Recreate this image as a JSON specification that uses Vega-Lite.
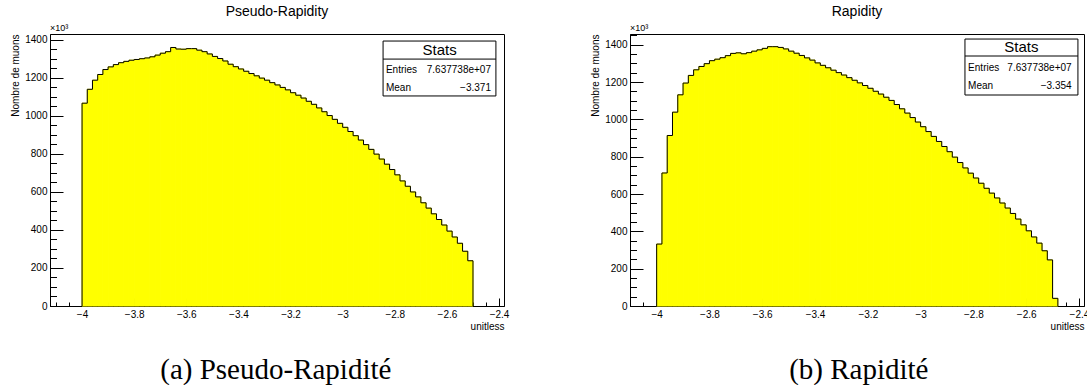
{
  "$schema": "https://vega.github.io/schema/vega-lite/v6.json",
  "background": "white",
  "padding": {"left": 10, "top": 4, "right": 0, "bottom": 0},
  "spacing": 80,
  "config": {
    "font": "Liberation Sans",
    "view": {"stroke": "black", "strokeWidth": 1},
    "axis": {"domainColor": "black", "tickColor": "black", "labelColor": "black", "titleColor": "black", "labelFont": "Liberation Sans", "titleFont": "Liberation Sans", "labelFontSize": 10, "titleFontSize": 10, "titleFontWeight": "normal", "grid": false, "tickWidth": 1, "domainWidth": 1},
    "text": {"font": "Liberation Sans", "color": "black"}
  },
  "datasets": {
    "pr": [
      {"lo": -4.00, "hi": -3.98, "n": 1067}, {"lo": -3.98, "hi": -3.96, "n": 1140}, {"lo": -3.96, "hi": -3.94, "n": 1188}, {"lo": -3.94, "hi": -3.92, "n": 1218}, {"lo": -3.92, "hi": -3.90, "n": 1244},
      {"lo": -3.90, "hi": -3.88, "n": 1258}, {"lo": -3.88, "hi": -3.86, "n": 1270}, {"lo": -3.86, "hi": -3.84, "n": 1280}, {"lo": -3.84, "hi": -3.82, "n": 1287}, {"lo": -3.82, "hi": -3.80, "n": 1293},
      {"lo": -3.80, "hi": -3.78, "n": 1297}, {"lo": -3.78, "hi": -3.76, "n": 1301}, {"lo": -3.76, "hi": -3.74, "n": 1305}, {"lo": -3.74, "hi": -3.72, "n": 1311}, {"lo": -3.72, "hi": -3.70, "n": 1320},
      {"lo": -3.70, "hi": -3.68, "n": 1330}, {"lo": -3.68, "hi": -3.66, "n": 1338}, {"lo": -3.66, "hi": -3.64, "n": 1360}, {"lo": -3.64, "hi": -3.62, "n": 1352}, {"lo": -3.62, "hi": -3.60, "n": 1351},
      {"lo": -3.60, "hi": -3.58, "n": 1354}, {"lo": -3.58, "hi": -3.56, "n": 1354}, {"lo": -3.56, "hi": -3.54, "n": 1346}, {"lo": -3.54, "hi": -3.52, "n": 1338}, {"lo": -3.52, "hi": -3.50, "n": 1326},
      {"lo": -3.50, "hi": -3.48, "n": 1313}, {"lo": -3.48, "hi": -3.46, "n": 1302}, {"lo": -3.46, "hi": -3.44, "n": 1289}, {"lo": -3.44, "hi": -3.42, "n": 1272}, {"lo": -3.42, "hi": -3.40, "n": 1259},
      {"lo": -3.40, "hi": -3.38, "n": 1247}, {"lo": -3.38, "hi": -3.36, "n": 1235}, {"lo": -3.36, "hi": -3.34, "n": 1223}, {"lo": -3.34, "hi": -3.32, "n": 1211}, {"lo": -3.32, "hi": -3.30, "n": 1199},
      {"lo": -3.30, "hi": -3.28, "n": 1188}, {"lo": -3.28, "hi": -3.26, "n": 1175}, {"lo": -3.26, "hi": -3.24, "n": 1163}, {"lo": -3.24, "hi": -3.22, "n": 1150}, {"lo": -3.22, "hi": -3.20, "n": 1137},
      {"lo": -3.20, "hi": -3.18, "n": 1122}, {"lo": -3.18, "hi": -3.16, "n": 1109}, {"lo": -3.16, "hi": -3.14, "n": 1094}, {"lo": -3.14, "hi": -3.12, "n": 1077}, {"lo": -3.12, "hi": -3.10, "n": 1061},
      {"lo": -3.10, "hi": -3.08, "n": 1042}, {"lo": -3.08, "hi": -3.06, "n": 1022}, {"lo": -3.06, "hi": -3.04, "n": 1002}, {"lo": -3.04, "hi": -3.02, "n": 982}, {"lo": -3.02, "hi": -3.00, "n": 961},
      {"lo": -3.00, "hi": -2.98, "n": 940}, {"lo": -2.98, "hi": -2.96, "n": 918}, {"lo": -2.96, "hi": -2.94, "n": 896}, {"lo": -2.94, "hi": -2.92, "n": 873}, {"lo": -2.92, "hi": -2.90, "n": 849},
      {"lo": -2.90, "hi": -2.88, "n": 824}, {"lo": -2.88, "hi": -2.86, "n": 799}, {"lo": -2.86, "hi": -2.84, "n": 773}, {"lo": -2.84, "hi": -2.82, "n": 746}, {"lo": -2.82, "hi": -2.80, "n": 718},
      {"lo": -2.80, "hi": -2.78, "n": 690}, {"lo": -2.78, "hi": -2.76, "n": 658}, {"lo": -2.76, "hi": -2.74, "n": 630}, {"lo": -2.74, "hi": -2.72, "n": 600}, {"lo": -2.72, "hi": -2.70, "n": 574},
      {"lo": -2.70, "hi": -2.68, "n": 543}, {"lo": -2.68, "hi": -2.66, "n": 515}, {"lo": -2.66, "hi": -2.64, "n": 485}, {"lo": -2.64, "hi": -2.62, "n": 455}, {"lo": -2.62, "hi": -2.60, "n": 426},
      {"lo": -2.60, "hi": -2.58, "n": 394}, {"lo": -2.58, "hi": -2.56, "n": 363}, {"lo": -2.56, "hi": -2.54, "n": 330}, {"lo": -2.54, "hi": -2.52, "n": 288}, {"lo": -2.52, "hi": -2.50, "n": 238}
    ],
    "r": [
      {"lo": -4.00, "hi": -3.98, "n": 332}, {"lo": -3.98, "hi": -3.96, "n": 713}, {"lo": -3.96, "hi": -3.94, "n": 914}, {"lo": -3.94, "hi": -3.92, "n": 1039}, {"lo": -3.92, "hi": -3.90, "n": 1132},
      {"lo": -3.90, "hi": -3.88, "n": 1195}, {"lo": -3.88, "hi": -3.86, "n": 1236}, {"lo": -3.86, "hi": -3.84, "n": 1266}, {"lo": -3.84, "hi": -3.82, "n": 1284}, {"lo": -3.82, "hi": -3.80, "n": 1299},
      {"lo": -3.80, "hi": -3.78, "n": 1315}, {"lo": -3.78, "hi": -3.76, "n": 1323}, {"lo": -3.76, "hi": -3.74, "n": 1331}, {"lo": -3.74, "hi": -3.72, "n": 1342}, {"lo": -3.72, "hi": -3.70, "n": 1354},
      {"lo": -3.70, "hi": -3.68, "n": 1357}, {"lo": -3.68, "hi": -3.66, "n": 1352}, {"lo": -3.66, "hi": -3.64, "n": 1358}, {"lo": -3.64, "hi": -3.62, "n": 1366}, {"lo": -3.62, "hi": -3.60, "n": 1373},
      {"lo": -3.60, "hi": -3.58, "n": 1381}, {"lo": -3.58, "hi": -3.56, "n": 1390}, {"lo": -3.56, "hi": -3.54, "n": 1390}, {"lo": -3.54, "hi": -3.52, "n": 1386}, {"lo": -3.52, "hi": -3.50, "n": 1378},
      {"lo": -3.50, "hi": -3.48, "n": 1366}, {"lo": -3.48, "hi": -3.46, "n": 1355}, {"lo": -3.46, "hi": -3.44, "n": 1343}, {"lo": -3.44, "hi": -3.42, "n": 1330}, {"lo": -3.42, "hi": -3.40, "n": 1318},
      {"lo": -3.40, "hi": -3.38, "n": 1303}, {"lo": -3.38, "hi": -3.36, "n": 1290}, {"lo": -3.36, "hi": -3.34, "n": 1277}, {"lo": -3.34, "hi": -3.32, "n": 1264}, {"lo": -3.32, "hi": -3.30, "n": 1251},
      {"lo": -3.30, "hi": -3.28, "n": 1238}, {"lo": -3.28, "hi": -3.26, "n": 1224}, {"lo": -3.26, "hi": -3.24, "n": 1210}, {"lo": -3.24, "hi": -3.22, "n": 1196}, {"lo": -3.22, "hi": -3.20, "n": 1182},
      {"lo": -3.20, "hi": -3.18, "n": 1167}, {"lo": -3.18, "hi": -3.16, "n": 1151}, {"lo": -3.16, "hi": -3.14, "n": 1136}, {"lo": -3.14, "hi": -3.12, "n": 1119}, {"lo": -3.12, "hi": -3.10, "n": 1102},
      {"lo": -3.10, "hi": -3.08, "n": 1080}, {"lo": -3.08, "hi": -3.06, "n": 1057}, {"lo": -3.06, "hi": -3.04, "n": 1034}, {"lo": -3.04, "hi": -3.02, "n": 1010}, {"lo": -3.02, "hi": -3.00, "n": 986},
      {"lo": -3.00, "hi": -2.98, "n": 961}, {"lo": -2.98, "hi": -2.96, "n": 935}, {"lo": -2.96, "hi": -2.94, "n": 909}, {"lo": -2.94, "hi": -2.92, "n": 882}, {"lo": -2.92, "hi": -2.90, "n": 855},
      {"lo": -2.90, "hi": -2.88, "n": 827}, {"lo": -2.88, "hi": -2.86, "n": 798}, {"lo": -2.86, "hi": -2.84, "n": 769}, {"lo": -2.84, "hi": -2.82, "n": 740}, {"lo": -2.82, "hi": -2.80, "n": 712},
      {"lo": -2.80, "hi": -2.78, "n": 686}, {"lo": -2.78, "hi": -2.76, "n": 658}, {"lo": -2.76, "hi": -2.74, "n": 631}, {"lo": -2.74, "hi": -2.72, "n": 605}, {"lo": -2.72, "hi": -2.70, "n": 579},
      {"lo": -2.70, "hi": -2.68, "n": 552}, {"lo": -2.68, "hi": -2.66, "n": 525}, {"lo": -2.66, "hi": -2.64, "n": 496}, {"lo": -2.64, "hi": -2.62, "n": 466}, {"lo": -2.62, "hi": -2.60, "n": 435},
      {"lo": -2.60, "hi": -2.58, "n": 403}, {"lo": -2.58, "hi": -2.56, "n": 370}, {"lo": -2.56, "hi": -2.54, "n": 337}, {"lo": -2.54, "hi": -2.52, "n": 296}, {"lo": -2.52, "hi": -2.50, "n": 247},
      {"lo": -2.50, "hi": -2.48, "n": 41}
    ]
  },
  "hconcat": [
    {
      "title": {"text": "(a) Pseudo-Rapidité", "orient": "bottom", "anchor": "middle", "frame": "bounds", "dx": 16, "font": "Liberation Serif", "fontSize": 29, "fontWeight": "normal", "color": "black", "offset": 24},
      "vconcat": [
        {
          "width": 454, "height": 272,
          "title": {"text": "Pseudo-Rapidity", "frame": "group", "offset": -6, "baseline": "alphabetic", "fontSize": 14, "fontWeight": "normal", "font": "Liberation Sans", "color": "black"},
          "data": {"name": "pr"},
          "resolve": {"axis": {"x": "independent", "y": "independent"}},
          "layer": [
            {
              "mark": {"type": "rect", "fill": "#ffff00", "stroke": "#ffff00", "strokeWidth": 1},
              "encoding": {
                "x": {"field": "lo", "type": "quantitative", "scale": {"domain": [-4.123, -2.381], "nice": false, "zero": false},
                  "axis": {"orient": "bottom", "values": [-4, -3.8, -3.6, -3.4, -3.2, -3, -2.8, -2.6, -2.4], "format": "~g", "tickSize": -8, "labelPadding": 11, "title": "unitless", "titleAnchor": "end", "titlePadding": 2}},
                "x2": {"field": "hi"},
                "y": {"field": "n", "type": "quantitative", "scale": {"domain": [0, 1431], "nice": false},
                  "axis": {"orient": "left", "values": [0, 200, 400, 600, 800, 1000, 1200, 1400], "format": "d", "tickSize": -13, "labelPadding": 16, "title": "Nombre de muons", "titleAnchor": "end", "titlePadding": 4}},
                "y2": {"datum": 0}
              }
            },
            {
              "transform": [{"fold": ["lo", "hi"], "as": ["edge", "xv"]}],
              "mark": {"type": "line", "color": "black", "strokeWidth": 1},
              "encoding": {
                "x": {"field": "xv", "type": "quantitative", "axis": {"orient": "bottom", "values": [-4.1, -4.05, -4, -3.95, -3.9, -3.85, -3.8, -3.75, -3.7, -3.65, -3.6, -3.55, -3.5, -3.45, -3.4, -3.35, -3.3, -3.25, -3.2, -3.15, -3.1, -3.05, -3, -2.95, -2.9, -2.85, -2.8, -2.75, -2.7, -2.65, -2.6, -2.55, -2.5, -2.45, -2.4], "labels": false, "domain": false, "tickSize": -4, "title": null}},
                "y": {"field": "n", "type": "quantitative", "axis": {"orient": "left", "values": [0, 50, 100, 150, 200, 250, 300, 350, 400, 450, 500, 550, 600, 650, 700, 750, 800, 850, 900, 950, 1000, 1050, 1100, 1150, 1200, 1250, 1300, 1350, 1400], "labels": false, "domain": false, "tickSize": -6.5, "title": null}},
                "order": [{"field": "xv", "type": "quantitative"}, {"field": "edge", "type": "nominal"}]
              }
            },
            {
              "transform": [{"filter": "datum.lo == -4"}],
              "mark": {"type": "rule", "color": "black", "strokeWidth": 1},
              "encoding": {"x": {"field": "lo", "type": "quantitative", "axis": null}, "y": {"field": "n", "type": "quantitative", "axis": null}, "y2": {"datum": 0}}
            },
            {
              "transform": [{"filter": "datum.hi == -2.5"}],
              "mark": {"type": "rule", "color": "black", "strokeWidth": 1},
              "encoding": {"x": {"field": "hi", "type": "quantitative", "axis": null}, "y": {"field": "n", "type": "quantitative", "axis": null}, "y2": {"datum": 0}}
            },
            {
              "data": {"values": [{"t": "×10³"}]},
              "mark": {"type": "text", "align": "left", "baseline": "alphabetic", "dy": -3, "fontSize": 9},
              "encoding": {"text": {"field": "t"}, "x": {"datum": -4.123, "type": "quantitative", "axis": null}, "y": {"datum": 1431, "type": "quantitative", "axis": null}}
            },
            {
              "data": {"values": [{}]},
              "mark": {"type": "rect", "fill": "white", "stroke": "black", "strokeWidth": 1},
              "encoding": {"x": {"datum": -2.845, "type": "quantitative", "axis": null}, "x2": {"datum": -2.412}, "y": {"datum": 1394, "type": "quantitative", "axis": null}, "y2": {"datum": 1105}}
            },
            {
              "data": {"values": [{}]},
              "mark": {"type": "rule", "color": "black", "strokeWidth": 1},
              "encoding": {"x": {"datum": -2.845, "type": "quantitative", "axis": null}, "x2": {"datum": -2.412}, "y": {"datum": 1299, "type": "quantitative", "axis": null}}
            },
            {
              "data": {"values": [{"t": "Stats"}]},
              "mark": {"type": "text", "align": "center", "baseline": "middle", "fontSize": 15},
              "encoding": {"text": {"field": "t"}, "x": {"datum": -2.628, "type": "quantitative", "axis": null}, "y": {"datum": 1345, "type": "quantitative", "axis": null}}
            },
            {
              "data": {"values": [{"k": "Entries", "v": "7.637738e+07", "yy": 1240}, {"k": "Mean", "v": "−3.371", "yy": 1145}]},
              "layer": [
                {"mark": {"type": "text", "align": "left", "baseline": "middle", "fontSize": 10},
                 "encoding": {"text": {"field": "k"}, "x": {"datum": -2.834, "type": "quantitative", "axis": null}, "y": {"field": "yy", "type": "quantitative", "axis": null}}},
                {"mark": {"type": "text", "align": "right", "baseline": "middle", "fontSize": 10},
                 "encoding": {"text": {"field": "v"}, "x": {"datum": -2.431, "type": "quantitative", "axis": null}, "y": {"field": "yy", "type": "quantitative", "axis": null}}}
              ]
            }
          ]
        }
      ]
    },
    {
      "title": {"text": "(b) Rapidité", "orient": "bottom", "anchor": "middle", "frame": "bounds", "dx": 19, "font": "Liberation Serif", "fontSize": 29, "fontWeight": "normal", "color": "black", "offset": 24},
      "vconcat": [
        {
          "width": 454, "height": 272,
          "title": {"text": "Rapidity", "frame": "group", "offset": -6, "baseline": "alphabetic", "fontSize": 14, "fontWeight": "normal", "font": "Liberation Sans", "color": "black"},
          "data": {"name": "r"},
          "resolve": {"axis": {"x": "independent", "y": "independent"}},
          "layer": [
            {
              "mark": {"type": "rect", "fill": "#ffff00", "stroke": "#ffff00", "strokeWidth": 1},
              "encoding": {
                "x": {"field": "lo", "type": "quantitative", "scale": {"domain": [-4.101, -2.381], "nice": false, "zero": false},
                  "axis": {"orient": "bottom", "values": [-4, -3.8, -3.6, -3.4, -3.2, -3, -2.8, -2.6, -2.4], "format": "~g", "tickSize": -8, "labelPadding": 11, "title": "unitless", "titleAnchor": "end", "titlePadding": 2}},
                "x2": {"field": "hi"},
                "y": {"field": "n", "type": "quantitative", "scale": {"domain": [0, 1458], "nice": false},
                  "axis": {"orient": "left", "values": [0, 200, 400, 600, 800, 1000, 1200, 1400], "format": "d", "tickSize": -13, "labelPadding": 16, "title": "Nombre de muons", "titleAnchor": "end", "titlePadding": 4}},
                "y2": {"datum": 0}
              }
            },
            {
              "transform": [{"fold": ["lo", "hi"], "as": ["edge", "xv"]}],
              "mark": {"type": "line", "color": "black", "strokeWidth": 1},
              "encoding": {
                "x": {"field": "xv", "type": "quantitative", "axis": {"orient": "bottom", "values": [-4.1, -4.05, -4, -3.95, -3.9, -3.85, -3.8, -3.75, -3.7, -3.65, -3.6, -3.55, -3.5, -3.45, -3.4, -3.35, -3.3, -3.25, -3.2, -3.15, -3.1, -3.05, -3, -2.95, -2.9, -2.85, -2.8, -2.75, -2.7, -2.65, -2.6, -2.55, -2.5, -2.45, -2.4], "labels": false, "domain": false, "tickSize": -4, "title": null}},
                "y": {"field": "n", "type": "quantitative", "axis": {"orient": "left", "values": [0, 50, 100, 150, 200, 250, 300, 350, 400, 450, 500, 550, 600, 650, 700, 750, 800, 850, 900, 950, 1000, 1050, 1100, 1150, 1200, 1250, 1300, 1350, 1400, 1450], "labels": false, "domain": false, "tickSize": -6.5, "title": null}},
                "order": [{"field": "xv", "type": "quantitative"}, {"field": "edge", "type": "nominal"}]
              }
            },
            {
              "transform": [{"filter": "datum.lo == -4"}],
              "mark": {"type": "rule", "color": "black", "strokeWidth": 1},
              "encoding": {"x": {"field": "lo", "type": "quantitative", "axis": null}, "y": {"field": "n", "type": "quantitative", "axis": null}, "y2": {"datum": 0}}
            },
            {
              "transform": [{"filter": "datum.hi == -2.48"}],
              "mark": {"type": "rule", "color": "black", "strokeWidth": 1},
              "encoding": {"x": {"field": "hi", "type": "quantitative", "axis": null}, "y": {"field": "n", "type": "quantitative", "axis": null}, "y2": {"datum": 0}}
            },
            {
              "data": {"values": [{"t": "×10³"}]},
              "mark": {"type": "text", "align": "left", "baseline": "alphabetic", "dy": -3, "fontSize": 9},
              "encoding": {"text": {"field": "t"}, "x": {"datum": -4.101, "type": "quantitative", "axis": null}, "y": {"datum": 1458, "type": "quantitative", "axis": null}}
            },
            {
              "data": {"values": [{}]},
              "mark": {"type": "rect", "fill": "white", "stroke": "black", "strokeWidth": 1},
              "encoding": {"x": {"datum": -2.832, "type": "quantitative", "axis": null}, "x2": {"datum": -2.404}, "y": {"datum": 1431, "type": "quantitative", "axis": null}, "y2": {"datum": 1131}}
            },
            {
              "data": {"values": [{}]},
              "mark": {"type": "rule", "color": "black", "strokeWidth": 1},
              "encoding": {"x": {"datum": -2.832, "type": "quantitative", "axis": null}, "x2": {"datum": -2.404}, "y": {"datum": 1340, "type": "quantitative", "axis": null}}
            },
            {
              "data": {"values": [{"t": "Stats"}]},
              "mark": {"type": "text", "align": "center", "baseline": "middle", "fontSize": 15},
              "encoding": {"text": {"field": "t"}, "x": {"datum": -2.618, "type": "quantitative", "axis": null}, "y": {"datum": 1388, "type": "quantitative", "axis": null}}
            },
            {
              "data": {"values": [{"k": "Entries", "v": "7.637738e+07", "yy": 1277}, {"k": "Mean", "v": "−3.354", "yy": 1179}]},
              "layer": [
                {"mark": {"type": "text", "align": "left", "baseline": "middle", "fontSize": 10},
                 "encoding": {"text": {"field": "k"}, "x": {"datum": -2.820, "type": "quantitative", "axis": null}, "y": {"field": "yy", "type": "quantitative", "axis": null}}},
                {"mark": {"type": "text", "align": "right", "baseline": "middle", "fontSize": 10},
                 "encoding": {"text": {"field": "v"}, "x": {"datum": -2.428, "type": "quantitative", "axis": null}, "y": {"field": "yy", "type": "quantitative", "axis": null}}}
              ]
            }
          ]
        }
      ]
    }
  ]
}
